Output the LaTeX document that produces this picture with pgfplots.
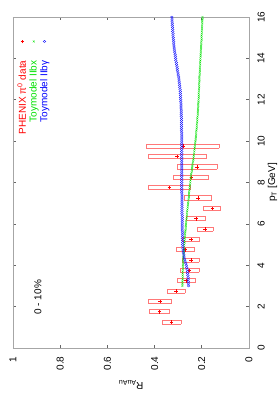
\documentclass[border=0pt]{standalone}
\usepackage{fontspec}
\setmainfont{Liberation Sans}
\usepackage{pgfplots}
\usepackage{pgfplotstable}
\pgfplotsset{compat=1.18}

% PHENIX pi0 data (pT, RAA)
\pgfplotstableread{
pt R
1.25 0.328
1.75 0.379
2.25 0.377
2.75 0.309
3.25 0.267
3.75 0.252
4.25 0.246
4.75 0.271
5.25 0.246
5.75 0.186
6.25 0.225
6.75 0.155
7.25 0.216
7.75 0.337
8.25 0.244
8.75 0.220
9.25 0.305
9.75 0.280
}\phenix

% systematic boxes: corners, separated by jumps
\pgfplotstableread{
x y
1.15 0.288
1.35 0.288
1.35 0.368
1.15 0.368
1.15 0.288
nan nan
1.65 0.337
1.85 0.337
1.85 0.421
1.65 0.421
1.65 0.337
nan nan
2.15 0.330
2.35 0.330
2.35 0.424
2.15 0.424
2.15 0.330
nan nan
2.65 0.271
2.85 0.271
2.85 0.347
2.65 0.347
2.65 0.271
nan nan
3.15 0.229
3.35 0.229
3.35 0.305
3.15 0.305
3.15 0.229
nan nan
3.65 0.212
3.85 0.212
3.85 0.292
3.65 0.292
3.65 0.212
nan nan
4.15 0.212
4.35 0.212
4.35 0.280
4.15 0.280
4.15 0.212
nan nan
4.65 0.233
4.85 0.233
4.85 0.309
4.65 0.309
4.65 0.233
nan nan
5.15 0.208
5.35 0.208
5.35 0.284
5.15 0.284
5.15 0.208
nan nan
5.65 0.152
5.85 0.152
5.85 0.220
5.65 0.220
5.65 0.152
nan nan
6.15 0.183
6.35 0.183
6.35 0.267
6.15 0.267
6.15 0.183
nan nan
6.65 0.119
6.85 0.119
6.85 0.191
6.65 0.191
6.65 0.119
nan nan
7.15 0.157
7.35 0.157
7.35 0.275
7.15 0.275
7.15 0.157
nan nan
7.65 0.246
7.85 0.246
7.85 0.428
7.65 0.428
7.65 0.246
nan nan
8.15 0.170
8.35 0.170
8.35 0.318
8.15 0.318
8.15 0.170
nan nan
8.65 0.135
8.85 0.135
8.85 0.305
8.65 0.305
8.65 0.135
nan nan
9.15 0.182
9.35 0.182
9.35 0.428
9.15 0.428
9.15 0.182
nan nan
9.65 0.127
9.85 0.127
9.85 0.433
9.65 0.433
9.65 0.127
}\boxes

% Toymodel curves
\pgfplotstableread{
pt IIbx IIbg
3.0 0.282 0.256
3.1 0.282 0.257
3.2 0.282 0.257
3.3 0.281 0.258
3.4 0.281 0.258
3.5 0.281 0.259
3.6 0.281 0.260
3.7 0.281 0.261
3.8 0.280 0.262
3.9 0.280 0.264
4.0 0.280 0.266
4.1 0.279 0.268
4.2 0.279 0.271
4.3 0.278 0.273
4.4 0.278 0.275
4.5 0.277 0.276
4.6 0.276 0.278
4.7 0.276 0.279
4.8 0.275 0.280
4.9 0.275 0.280
5.0 0.274 0.281
5.1 0.273 0.281
5.2 0.273 0.281
5.3 0.272 0.282
5.4 0.271 0.282
5.5 0.271 0.282
5.6 0.270 0.282
5.7 0.269 0.283
5.8 0.268 0.283
5.9 0.268 0.283
6.0 0.267 0.283
6.1 0.266 0.283
6.2 0.265 0.283
6.3 0.264 0.283
6.4 0.263 0.283
6.5 0.263 0.284
6.6 0.262 0.284
6.7 0.261 0.284
6.8 0.260 0.284
6.9 0.259 0.284
7.0 0.258 0.284
7.1 0.257 0.284
7.2 0.256 0.284
7.3 0.255 0.284
7.4 0.254 0.284
7.5 0.254 0.285
7.6 0.253 0.285
7.7 0.252 0.285
7.8 0.251 0.285
7.9 0.250 0.285
8.0 0.249 0.285
8.1 0.248 0.285
8.2 0.247 0.285
8.3 0.246 0.285
8.4 0.245 0.285
8.5 0.243 0.285
8.6 0.242 0.285
8.7 0.241 0.285
8.8 0.240 0.285
8.9 0.239 0.285
9.0 0.237 0.285
9.1 0.236 0.285
9.2 0.235 0.285
9.3 0.234 0.285
9.4 0.233 0.285
9.5 0.232 0.285
9.6 0.231 0.285
9.7 0.230 0.285
9.8 0.229 0.285
9.9 0.228 0.285
10.0 0.227 0.285
10.1 0.226 0.285
10.2 0.225 0.285
10.3 0.224 0.285
10.4 0.224 0.285
10.5 0.223 0.286
10.6 0.222 0.286
10.7 0.221 0.286
10.8 0.221 0.286
10.9 0.220 0.286
11.0 0.219 0.286
11.1 0.219 0.286
11.2 0.218 0.287
11.3 0.217 0.287
11.4 0.217 0.287
11.5 0.216 0.287
11.6 0.216 0.288
11.7 0.215 0.288
11.8 0.215 0.288
11.9 0.214 0.289
12.0 0.214 0.289
12.1 0.213 0.290
12.2 0.213 0.290
12.3 0.213 0.291
12.4 0.212 0.291
12.5 0.212 0.292
12.6 0.211 0.293
12.7 0.211 0.294
12.8 0.211 0.295
12.9 0.210 0.296
13.0 0.210 0.297
13.1 0.210 0.298
13.2 0.209 0.300
13.3 0.209 0.301
13.4 0.208 0.303
13.5 0.208 0.304
13.6 0.208 0.305
13.7 0.207 0.307
13.8 0.207 0.308
13.9 0.206 0.310
14.0 0.206 0.311
14.1 0.205 0.312
14.2 0.205 0.313
14.3 0.204 0.315
14.4 0.204 0.316
14.5 0.203 0.317
14.6 0.203 0.318
14.7 0.202 0.319
14.8 0.202 0.319
14.9 0.201 0.320
15.0 0.201 0.321
15.1 0.201 0.322
15.2 0.200 0.322
15.3 0.200 0.323
15.4 0.199 0.323
15.5 0.199 0.324
15.6 0.199 0.325
15.7 0.198 0.325
15.8 0.198 0.326
15.9 0.197 0.326
16.0 0.197 0.327
}\models

\definecolor{gpred}{RGB}{255,0,0}
\definecolor{gpgreen}{RGB}{0,225,0}
\definecolor{gpblue}{RGB}{0,0,255}
\definecolor{gpbox}{RGB}{255,120,120}

\begin{document}
\begin{tikzpicture}
\path[use as bounding box] (-249pt,-52pt) rectangle (31pt,348pt);
\begin{scope}
\pgftransformrotate{90}\pgflowlevelsynccm
\begin{axis}[
  scale only axis, width=331pt, height=236pt,
  at={(0pt,0pt)}, anchor=south west,
  xmin=0, xmax=16, ymin=0, ymax=1,
  xtick={0,2,4,6,8,10,12,14,16},
  ytick={0,0.2,0.4,0.6,0.8,1},
  tick pos=both, tick align=inside,
  major tick length=3pt,
  axis line style={gray!70, line width=0.8pt},
  tick style={gray!80!black, line width=0.6pt},
  /pgf/number format/assume math mode=true,
  tick label style={font=\fontsize{10}{12}\selectfont},
  xticklabel style={yshift=-5pt},
  yticklabel style={xshift=-5pt},
  xlabel={p\textsubscript{T} [GeV]},
  ylabel={R\textsubscript{AuAu}},
  xlabel style={at={(axis description cs:0.5,-0.1)}, anchor=center},
  ylabel style={at={(axis description cs:-0.112,0.5)}, anchor=center},
  unbounded coords=jump,
  legend style={draw=none, fill=none, at={(axis description cs:0.94,0.995)}, anchor=north east,
    inner sep=1pt, row sep=-2pt, font=\fontsize{10}{12}\selectfont},
  legend cell align=right,
  legend plot pos=right,
  legend image code/.code={\path[draw=none, fill=none] (0cm,0cm) -- (0.72cm,0cm); \draw[#1] plot coordinates {(0.6cm,0cm)};},
]
\addplot[gpbox, line width=0.9pt, mark=none, forget plot] table[x=x, y=y] {\boxes};
\addplot[only marks, gpred, mark=+, mark size=1.8pt, line width=0.7pt] table[x=pt, y=R] {\phenix};
\addlegendentry[text=gpred]{PHENIX π\textsuperscript{0} data}
\addplot[only marks, gpgreen, mark=x, mark size=1.3pt, line width=0.3pt] table[x=pt, y=IIbx] {\models};
\addlegendentry[text=gpgreen]{Toymodel IIbx}
\addplot[only marks, gpblue, mark=diamond, mark size=1.4pt, line width=0.3pt] table[x=pt, y=IIbg] {\models};
\addlegendentry[text=gpblue]{Toymodel IIbγ}
\node[anchor=west, font=\fontsize{10}{12}\selectfont] at (axis cs:1.45,0.894) {0 - 10\%};
\end{axis}
\end{scope}
\end{tikzpicture}
\end{document}
